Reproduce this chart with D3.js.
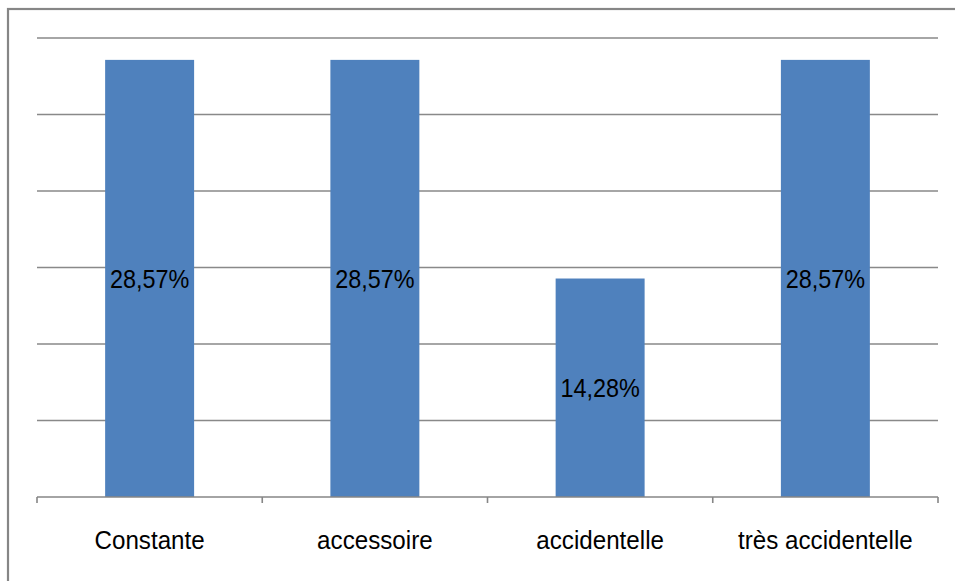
<!DOCTYPE html>
<html>
<head>
<meta charset="utf-8">
<script src="https://cdn.jsdelivr.net/npm/d3@7/dist/d3.min.js"></script>
<style>
  html, body { margin: 0; padding: 0; background: #fff; }
  svg { display: block; }
</style>
</head>
<body>
<svg id="chart" width="955" height="581"></svg>
<script>
// Category labels and their shares (percent)
const categories = ["Constante", "accessoire", "accidentelle", "très accidentelle"];
const values = [28.57, 28.57, 14.28, 28.57];
const valueLabels = ["28,57%", "28,57%", "14,28%", "28,57%"];
const gridTicks = [0, 5, 10, 15, 20, 25, 30];

const svg = d3.select("#chart");
const W = 955, H = 581;
const plot = { left: 37, right: 938, top: 38, bottom: 497 };
const FONT = "'Liberation Sans', Arial, sans-serif";
const NARROW_VALUE = 0.9;  // horizontal condensing of value labels
const NARROW_CAT = 0.93;   // horizontal condensing of category labels

// Chart frame
svg.append("rect")
  .attr("x", 8).attr("y", 9)
  .attr("width", W + 10).attr("height", H + 10)
  .attr("fill", "#fff")
  .attr("stroke", "#868686")
  .attr("stroke-width", 2.2);

const x = d3.scaleBand()
  .domain(categories)
  .range([plot.left, plot.right])
  .paddingInner(0.605)
  .paddingOuter(0.3025);

const y = d3.scaleLinear()
  .domain([0, 30])
  .range([plot.bottom, plot.top]);

// Horizontal gridlines
svg.append("g")
  .selectAll("line")
  .data(gridTicks.filter(t => t > 0))
  .join("line")
  .attr("x1", plot.left).attr("x2", plot.right)
  .attr("y1", d => y(d)).attr("y2", d => y(d))
  .attr("stroke", "#898989")
  .attr("stroke-width", 1.6);

// Bars
svg.append("g")
  .selectAll("rect")
  .data(values)
  .join("rect")
  .attr("x", (d, i) => x(categories[i]))
  .attr("y", d => y(d))
  .attr("width", x.bandwidth())
  .attr("height", d => y(0) - y(d))
  .attr("fill", "#4F81BD");

// Value labels, centred in each bar
svg.append("g")
  .selectAll("text")
  .data(values)
  .join("text")
  .attr("transform", (d, i) =>
    `translate(${x(categories[i]) + x.bandwidth() / 2},${(y(d) + y(0)) / 2}) scale(${NARROW_VALUE},1)`)
  .attr("dy", "0.36em")
  .attr("text-anchor", "middle")
  .attr("font-family", FONT)
  .attr("font-size", 26)
  .attr("fill", "#000")
  .text((d, i) => valueLabels[i]);

// Category axis with ticks at band boundaries
const axisG = svg.append("g");
axisG.append("line")
  .attr("x1", plot.left).attr("x2", plot.right)
  .attr("y1", y(0)).attr("y2", y(0))
  .attr("stroke", "#868686")
  .attr("stroke-width", 1.6);

const boundaries = d3.range(categories.length + 1)
  .map(i => plot.left + i * (plot.right - plot.left) / categories.length);
axisG.selectAll("line.tick")
  .data(boundaries)
  .join("line")
  .attr("class", "tick")
  .attr("x1", d => d).attr("x2", d => d)
  .attr("y1", y(0)).attr("y2", y(0) + 6)
  .attr("stroke", "#868686")
  .attr("stroke-width", 1.6);

axisG.selectAll("text")
  .data(categories)
  .join("text")
  .attr("transform", d => `translate(${x(d) + x.bandwidth() / 2},549) scale(${NARROW_CAT},1)`)
  .attr("text-anchor", "middle")
  .attr("font-family", FONT)
  .attr("font-size", 26)
  .attr("fill", "#000")
  .text(d => d);
</script>
</body>
</html>
